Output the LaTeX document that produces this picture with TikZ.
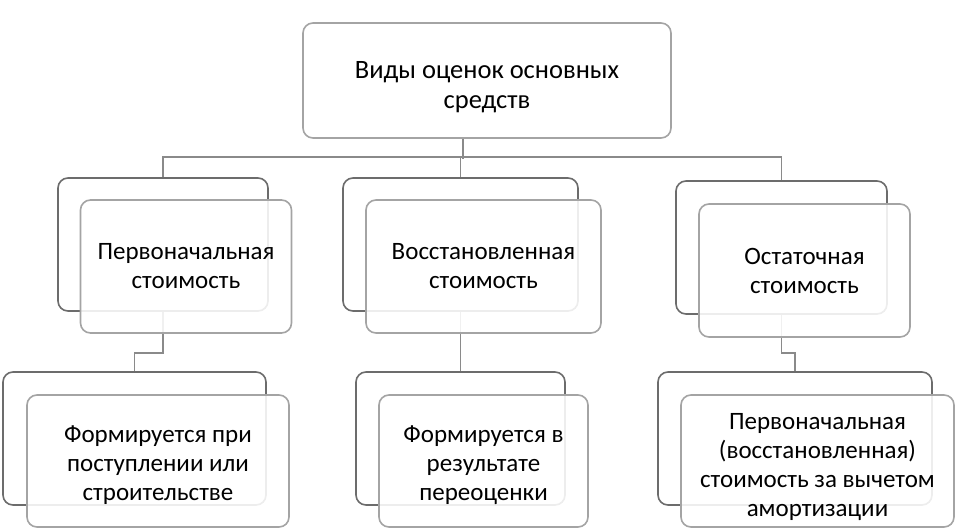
\documentclass[tikz,border=0pt]{standalone}
\usepackage{fontspec}
\setmainfont{Carlito}
\usepackage{tikz}
\usetikzlibrary{positioning}
\definecolor{backgray}{HTML}{6C6C6C}
\definecolor{frontgray}{HTML}{A4A4A4}
\definecolor{linkgray}{HTML}{8A8A8A}
\newcommand{\lowerby}[1]{\rule{0pt}{#1}}

\begin{document}
\begin{tikzpicture}[x=1pt,y=-1pt,
    back/.style={draw=backgray,line width=1.6pt,rounded corners=10pt,fill=white,inner sep=0pt},
    front/.style={draw=frontgray,line width=1.6pt,rounded corners=10pt,fill=white,fill opacity=0.88,text opacity=1,
        align=center,inner sep=0pt,font=\fontsize{25}{29}\selectfont},
    link/.style={draw=linkgray,line width=1.6pt}]
\useasboundingbox (0,0) rectangle (956,528);
\node[front,minimum width=368pt,minimum height=115pt,font=\fontsize{26.5}{30}\selectfont] (top) at (487,80.5)
    {\lowerby{30pt}Виды оценок основных\\средств};
% back shapes
\node[back,minimum width=210pt,minimum height=133pt] (b1) at (163,244.5) {};
\node[back,minimum width=235pt,minimum height=133pt] (b2) at (460.5,244.5) {};
\node[back,minimum width=211pt,minimum height=133pt] (b3) at (781.5,247.5) {};
\node[back,minimum width=263pt,minimum height=133pt] (c1) at (134.5,438.5) {};
\node[back,minimum width=209pt,minimum height=133pt] (c2) at (460.5,438.5) {};
\node[back,minimum width=274pt,minimum height=133pt] (c3) at (795,438.5) {};
% connectors
\draw[link] ([xshift=-24pt]top.south) -- ++(0,20);
\draw[link] (b1.north) -- ++(0,-20) -| (b3.north);
\draw[link] (b2.north) -- ++(0,-20);
\draw[link] (b1.south) -- ++(0,41) -| (c1.north);
\draw[link] (b2.south) -- (c2.north);
\draw[link] (b3.south) -- ++(0,38) -| (c3.north);
% front shapes
\node[front,minimum width=211pt,minimum height=133pt] (f1) at ([shift={(23,22)}]b1.center)
    {Первоначальная\\стоимость};
\node[front,minimum width=235pt,minimum height=133pt] (f2) at ([shift={(23,22)}]b2.center)
    {Восстановленная\\стоимость};
\node[front,minimum width=211pt,minimum height=133pt] (f3) at ([shift={(23,23)}]b3.center)
    {Остаточная\\стоимость};
\node[front,minimum width=262pt,minimum height=132pt] (g1) at ([shift={(23.5,22.5)}]c1.center)
    {\lowerby{26pt}Формируется при\\поступлении или\\строительстве};
\node[front,minimum width=209pt,minimum height=132pt] (g2) at ([shift={(23,22.5)}]c2.center)
    {\lowerby{26pt}Формируется в\\результате\\переоценки};
\node[front,minimum width=273pt,minimum height=132pt] (g3) at ([shift={(22.5,22.5)}]c3.center)
    {\lowerby{28pt}Первоначальная\\(восстановленная)\\стоимость за вычетом\\амортизации};
\end{tikzpicture}
\end{document}
